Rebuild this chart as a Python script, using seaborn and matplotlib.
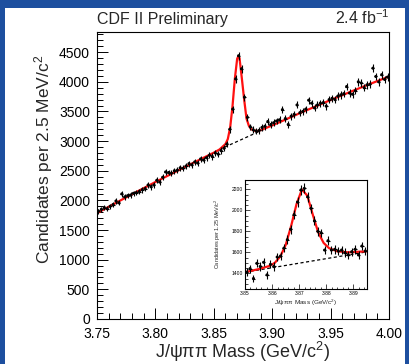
import numpy as np
import pandas as pd
import matplotlib
matplotlib.use("Agg")
import matplotlib.pyplot as plt
from matplotlib.ticker import MultipleLocator
from matplotlib.patches import Rectangle
import seaborn as sns

# ---------------- data ----------------
# main histogram: 2.5 MeV bins from 3.750 to 4.000 GeV
main_lo = 3.75
main_bin = 0.0025
main_counts = [
    1820, 1850, 1880, 1860, 1900, 1930, 1990, 1960, 2110, 2060,
    2080, 2090, 2120, 2130, 2150, 2180, 2200, 2260, 2230, 2260,
    2340, 2310, 2390, 2480, 2470, 2460, 2500, 2510, 2550, 2540,
    2580, 2620, 2600, 2650, 2630, 2700, 2680, 2720, 2760, 2740,
    2800, 2780, 2840, 2880, 2950, 3200, 3540, 4050, 4440, 4220,
    3740, 3400, 3240, 3190, 3170, 3180, 3230, 3250, 3330, 3280,
    3310, 3340, 3360, 3530, 3380, 3280, 3420, 3450, 3610, 3480,
    3500, 3540, 3690, 3640, 3560, 3610, 3640, 3650, 3590, 3700,
    3720, 3700, 3760, 3780, 3800, 3920, 3810, 3790, 3850, 4000,
    3980, 3900, 3950, 3960, 4230, 4090, 4000, 4120, 4040, 4080,
]
# fit curve (signal + background)
main_fit_x = [3.750, 3.775, 3.800, 3.825, 3.850, 3.855, 3.858, 3.860, 3.862,
              3.864, 3.866, 3.868, 3.870, 3.871, 3.872, 3.874, 3.876, 3.878,
              3.880, 3.882, 3.885, 3.888, 3.892, 3.900, 3.925, 3.950, 3.975, 4.000]
main_fit_y = [1785, 2052, 2310, 2561, 2805, 2860, 2915, 2951, 3035,
              3228, 3584, 4047, 4389, 4430, 4400, 4060, 3700, 3380,
              3260, 3200, 3175, 3170, 3200, 3264, 3483, 3693, 3896, 4090]
# background component (dashed)
main_bg_x = [3.855, 3.875, 3.893]
main_bg_y = [2860, 3038, 3200]

# inset histogram: 1.25 MeV bins from 3.850 to 3.895 GeV
ins_lo = 3.85
ins_bin = 0.00125
ins_counts = [
    1410, 1445, 1350, 1495, 1465, 1505, 1385, 1485, 1465, 1555,
    1565, 1640, 1720, 1820, 1960, 2080, 2195, 2210, 2130, 2020,
    1900, 1800, 1785, 1622, 1711, 1622, 1629, 1613, 1622, 1597,
    1575, 1606, 1629, 1575, 1660, 1613,
]
ins_fit_x = [3.850, 3.855, 3.859, 3.861, 3.863, 3.865, 3.867, 3.869, 3.871,
             3.873, 3.875, 3.877, 3.879, 3.881, 3.884, 3.888, 3.895]
ins_fit_y = [1410, 1440, 1470, 1500, 1560, 1670, 1850, 2060, 2200,
             2140, 1960, 1790, 1690, 1640, 1610, 1600, 1610]
ins_bg_x = [3.850, 3.895]
ins_bg_y = [1410, 1605]

# ---------------- style ----------------
sns.set_style("ticks")
plt.rcParams["font.family"] = ["Liberation Sans", "DejaVu Sans"]
plt.rcParams["mathtext.fontset"] = "custom"
plt.rcParams["mathtext.rm"] = "Liberation Sans"
plt.rcParams["mathtext.it"] = "Liberation Sans:italic"
plt.rcParams["mathtext.bf"] = "Liberation Sans:bold"

W, H = 409, 364
fig = plt.figure(figsize=(W / 100, H / 100), dpi=100)
fig.patch.set_facecolor("#1d4f9f")
fig.patches.append(Rectangle((5 / W, 0), 400 / W, 356 / H, transform=fig.transFigure,
                             facecolor="white", edgecolor="none", zorder=-10))


def px_axes(l, t, r, b):
    return fig.add_axes([l / W, (H - b) / H, (r - l) / W, (b - t) / H])


def draw_hist(ax, lo, binw, counts, ms, lw):
    n = len(counts)
    df = pd.DataFrame({
        "x": lo + binw * (np.arange(n) + 0.5),
        "y": np.asarray(counts, dtype=float),
    })
    ax.errorbar(df["x"], df["y"], yerr=np.sqrt(df["y"]), xerr=binw / 2,
                fmt="none", ecolor="black", elinewidth=lw, capsize=0, zorder=3)
    sns.scatterplot(data=df, x="x", y="y", ax=ax, color="black", s=ms,
                    marker="o", edgecolor="none", zorder=4, legend=False)


def style_axes(ax, lw):
    for s in ax.spines.values():
        s.set_linewidth(lw)
        s.set_color("black")
        s.set_visible(True)
    ax.set_facecolor("white")


# ---------------- main axes ----------------
ax = px_axes(97, 32, 389, 319)
style_axes(ax, 0.8)
ax.plot(main_bg_x, main_bg_y, color="black", lw=0.9, ls=(0, (2.5, 2)), zorder=2)
sns.lineplot(x=main_fit_x, y=main_fit_y, ax=ax, color="#ff1010", lw=1.6, zorder=2,
             sort=False, estimator=None)
draw_hist(ax, main_lo, main_bin, main_counts, ms=5, lw=0.8)
ax.set_xlim(3.75, 4.00)
ax.set_ylim(0, 4840)
ax.xaxis.set_major_locator(MultipleLocator(0.05))
ax.xaxis.set_minor_locator(MultipleLocator(0.01))
ax.yaxis.set_major_locator(MultipleLocator(500))
ax.yaxis.set_minor_locator(MultipleLocator(100))
ax.xaxis.set_major_formatter(plt.FuncFormatter(lambda v, p: f"{v:.2f}"))
ax.tick_params(which="both", direction="in", top=False, right=False, colors="black",
               labelsize=10, width=0.7)
ax.tick_params(which="major", length=8)
ax.tick_params(which="minor", length=4)
ax.tick_params(axis="x", pad=6)
ax.tick_params(axis="y", pad=5)
ax.set_xlabel("J/\u03c8\u03c0\u03c0 Mass (GeV/c$^{2}$)", fontsize=13, labelpad=-1)
ax.set_ylabel("Candidates per 2.5 MeV/c$^{2}$", fontsize=12.5)
ax.yaxis.set_label_coords(-0.145, 0.555)

fig.text(97 / W, (H - 24) / H, "CDF II Preliminary", fontsize=11.5, ha="left",
         va="baseline")
fig.text(389 / W, (H - 24) / H, "2.4 fb$^{-1}$", fontsize=11.5, ha="right",
         va="baseline")

# ---------------- inset ----------------
ai = px_axes(245, 179.5, 367, 288.5)
style_axes(ai, 0.8)
ai.plot(ins_bg_x, ins_bg_y, color="black", lw=0.9, ls=(0, (2.5, 2)), zorder=2)
sns.lineplot(x=ins_fit_x, y=ins_fit_y, ax=ai, color="#ff1010", lw=1.6, zorder=2,
             sort=False, estimator=None)
draw_hist(ai, ins_lo, ins_bin, ins_counts, ms=5, lw=0.8)
ai.set_xlim(3.85, 3.895)
ai.set_ylim(1255, 2295)
ai.xaxis.set_major_locator(MultipleLocator(0.01))
ai.xaxis.set_minor_locator(MultipleLocator(0.002))
ai.yaxis.set_major_locator(MultipleLocator(200))
ai.yaxis.set_minor_locator(MultipleLocator(50))
ai.xaxis.set_major_formatter(plt.FuncFormatter(lambda v, p: f"{v:.2f}"))
ai.tick_params(which="both", direction="in", top=False, right=False, colors="black",
               labelsize=3.6, width=0.5, pad=1.5)
ai.tick_params(which="major", length=3.5)
ai.tick_params(which="minor", length=1.8)
ai.set_xlabel("J/\u03c8\u03c0\u03c0 Mass (GeV/c$^{2}$)", fontsize=4.6, labelpad=1.5)
ai.set_ylabel("Candidates per 1.25 MeV/c$^{2}$", fontsize=4.0, labelpad=6)

fig.savefig("out.png", dpi=100, facecolor=fig.get_facecolor())
